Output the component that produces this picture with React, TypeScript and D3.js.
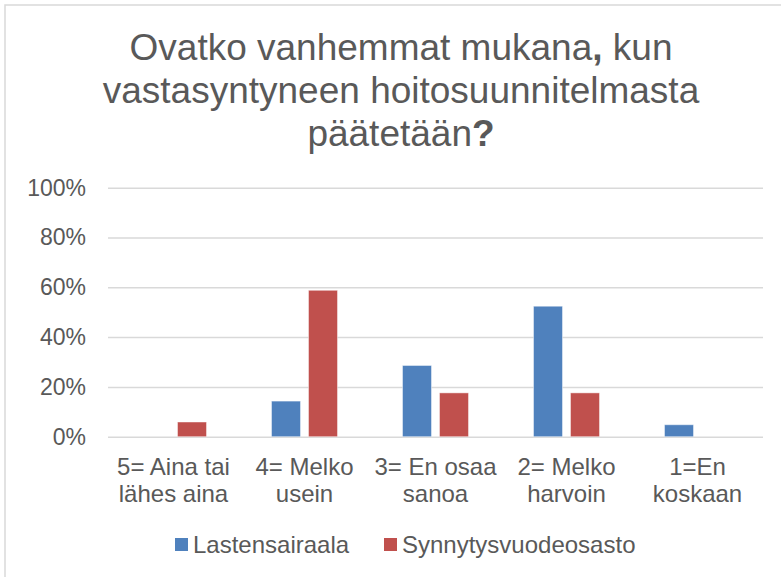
import { axisLeft, scaleBand, scaleLinear, select } from "d3";
import React, { useEffect, useRef } from "react";

const categories = [
    ["5= Aina tai", "lähes aina"],
    ["4= Melko", "usein"],
    ["3= En osaa", "sanoa"],
    ["2= Melko", "harvoin"],
    ["1=En", "koskaan"],
];
const seriesNames = ["Lastensairaala", "Synnytysvuodeosasto"];
const lastensairaala = [0, 0.143, 0.286, 0.524, 0.048];
const synnytysvuodeosasto = [0.059, 0.588, 0.176, 0.176, 0];
const yTicks = [0, 0.2, 0.4, 0.6, 0.8, 1];
const colors = ["#4F81BD", "#C0504D"];

const FONT = "'Liberation Sans', Arial, sans-serif";
const TEXT = "#595959";

const App: React.FC = () => {
    const svgRef = useRef<SVGSVGElement>(null);

    useEffect(() => {
        const svg = select(svgRef.current);
        svg.selectAll("*").remove();

        const left = 108,
            right = 763,
            top = 187.7,
            bottom = 436.7;

        // chart frame
        svg.append("rect")
            .attr("x", 5)
            .attr("y", 5)
            .attr("width", 802)
            .attr("height", 600)
            .attr("fill", "#fff")
            .attr("stroke", "#D9D9D9")
            .attr("stroke-width", 1.5);

        // title, the comma and question mark are bold
        const title = svg
            .append("text")
            .attr("text-anchor", "middle")
            .attr("font-family", FONT)
            .attr("font-size", 37)
            .attr("fill", TEXT);
        const line1 = title.append("tspan").attr("x", 401).attr("y", 60);
        line1.append("tspan").text("Ovatko vanhemmat mukana");
        line1.append("tspan").attr("font-weight", "bold").text(",");
        line1.append("tspan").text(" kun");
        title.append("tspan")
            .attr("x", 401)
            .attr("y", 103)
            .text("vastasyntyneen hoitosuunnitelmasta");
        const line3 = title.append("tspan").attr("x", 401).attr("y", 146);
        line3.append("tspan").text("päätetään");
        line3.append("tspan").attr("font-weight", "bold").text("?");

        const y = scaleLinear().domain([0, 1]).range([bottom, top]);

        // y axis with gridlines
        svg.append("g")
            .attr("transform", `translate(${left},0)`)
            .call(
                axisLeft(y)
                    .tickValues(yTicks)
                    .tickFormat(d => Math.round((d as number) * 100) + "%")
                    .tickSize(-(right - left))
                    .tickPadding(22),
            )
            .call(g => g.select(".domain").remove())
            .call(g =>
                g
                    .selectAll(".tick line")
                    .attr("stroke", "#D9D9D9")
                    .attr("stroke-width", 1.5),
            )
            .call(g =>
                g
                    .selectAll(".tick text")
                    .attr("fill", TEXT)
                    .attr("font-family", FONT)
                    .attr("font-size", 23),
            );

        const x0 = scaleBand<number>()
            .domain(categories.map((_, i) => i))
            .range([left, right]);
        const groupWidth = 66;
        const x1 = scaleBand<number>()
            .domain([0, 1])
            .range([0, groupWidth])
            .paddingInner(8 / 37)
            .paddingOuter(0);
        const offset = (x0.bandwidth() - groupWidth) / 2;

        [lastensairaala, synnytysvuodeosasto].forEach((values, s) => {
            const rows = values
                .map((v, i) => ({ v, i }))
                .filter(d => d.v > 0);
            svg.append("g")
                .selectAll("rect")
                .data(rows)
                .enter()
                .append("rect")
                .attr("x", d => x0(d.i)! + offset + x1(s)!)
                .attr("y", d => y(d.v))
                .attr("width", x1.bandwidth())
                .attr("height", d => y(0) - y(d.v))
                .attr("fill", colors[s])
                .attr("stroke", "#fff")
                .attr("stroke-opacity", 0.45)
                .attr("stroke-width", 1);
        });

        // category labels
        const xl = svg
            .append("g")
            .attr("font-family", FONT)
            .attr("font-size", 24)
            .attr("fill", TEXT)
            .attr("text-anchor", "middle");
        categories.forEach((lines, i) => {
            const cx = x0(i)! + x0.bandwidth() / 2;
            const t = xl.append("text");
            lines.forEach((l, j) =>
                t.append("tspan").attr("x", cx).attr("y", 475 + j * 27).text(l),
            );
        });

        // legend
        const legend = svg
            .append("g")
            .attr("font-family", FONT)
            .attr("font-size", 24)
            .attr("fill", TEXT);
        const legendX = [175, 384];
        seriesNames.forEach((name, i) => {
            legend
                .append("rect")
                .attr("x", legendX[i])
                .attr("y", 538)
                .attr("width", 13)
                .attr("height", 13)
                .attr("fill", colors[i]);
            legend
                .append("text")
                .attr("x", legendX[i] + 18)
                .attr("y", 553)
                .text(name);
        });
    }, []);

    return (
        <>
            <style>{"body{margin:0}"}</style>
            <svg ref={svgRef} width={781} height={577} style={{ display: "block" }}></svg>
        </>
    );
};

export default App;
